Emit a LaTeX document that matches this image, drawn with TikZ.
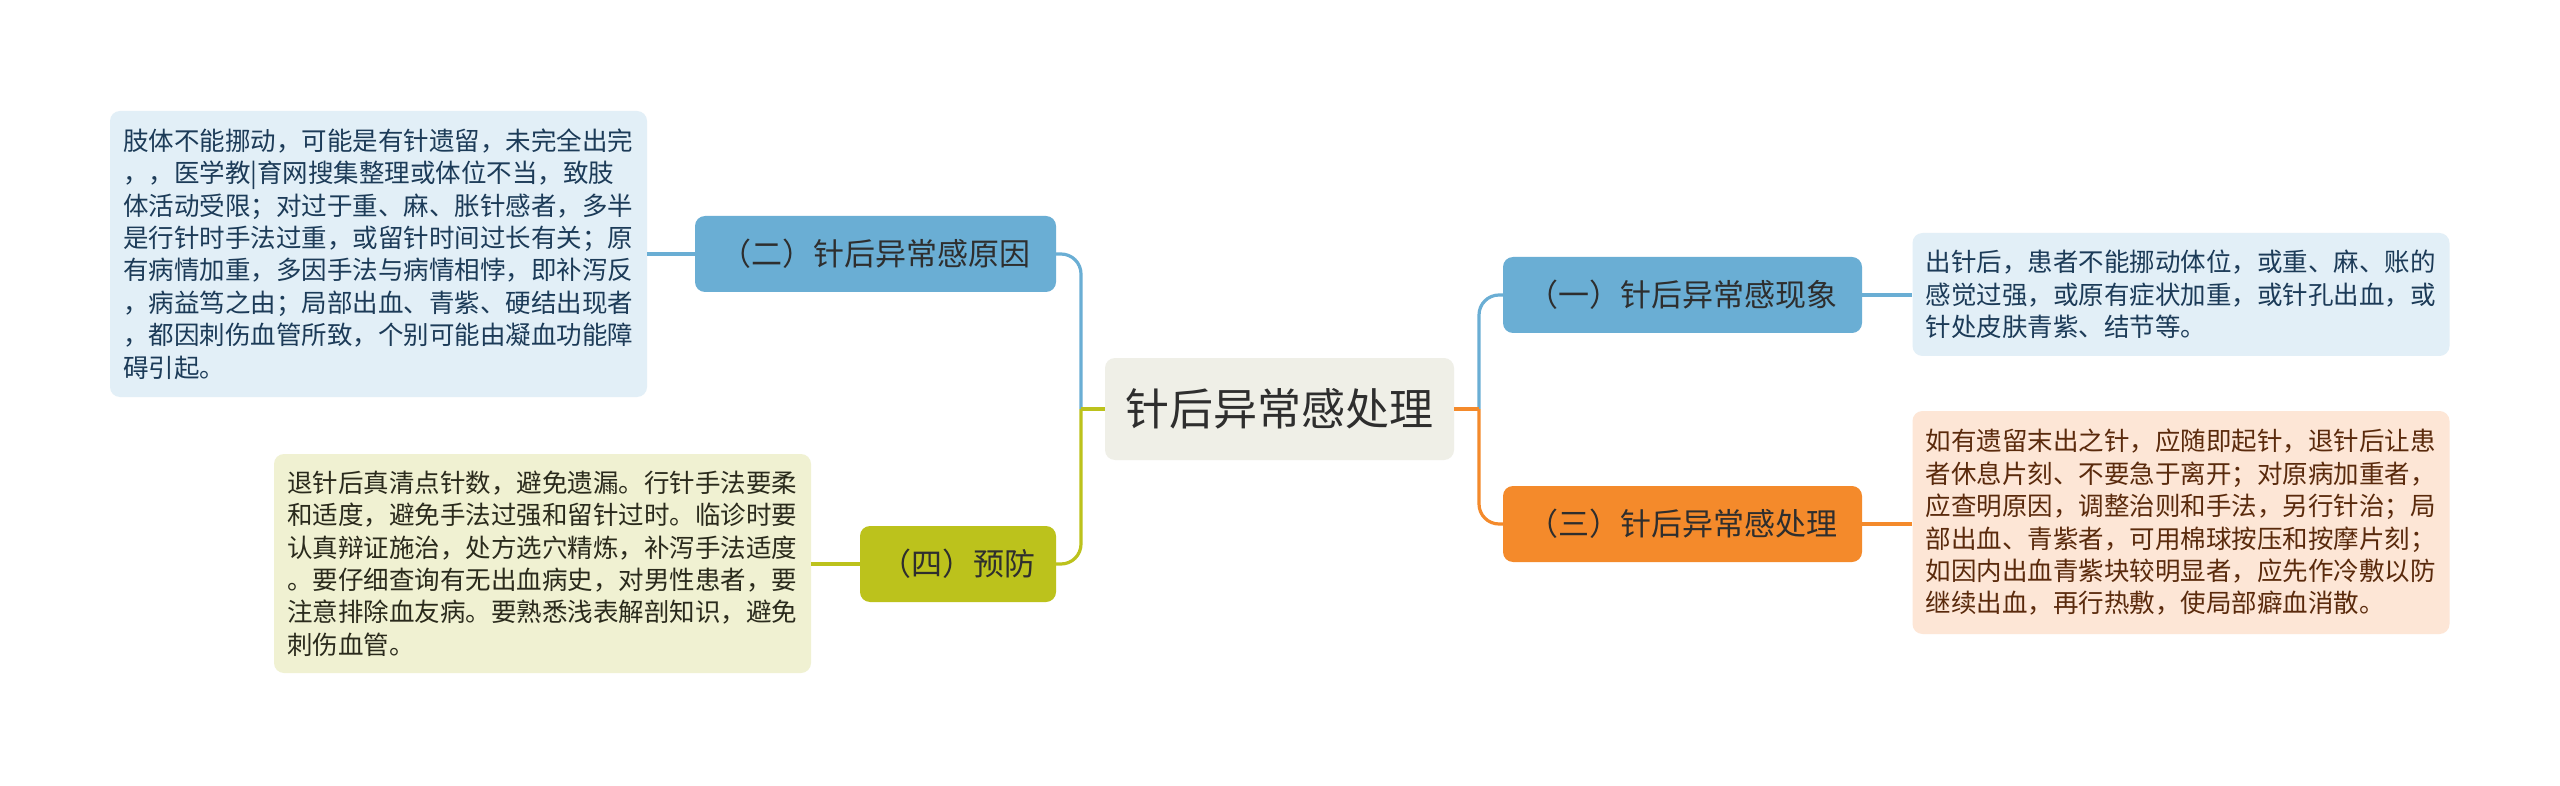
\documentclass[tikz,border=0pt]{standalone}
\usepackage{fontspec}
\setmainfont{Noto Sans CJK SC}
\definecolor{nblue}{HTML}{6AAED4}
\definecolor{norange}{HTML}{F48A2B}
\definecolor{nyg}{HTML}{BCC21C}
\definecolor{ncent}{HTML}{EFEFE7}
\definecolor{tblue}{HTML}{E2EFF7}
\definecolor{tyg}{HTML}{F0F1D2}
\definecolor{tor}{HTML}{FDE6D6}
\definecolor{txblue}{HTML}{1C3B58}
\definecolor{txyg}{HTML}{2A2A1C}
\definecolor{txor}{HTML}{5A2A0C}
\definecolor{txnode}{HTML}{2E2E2E}
\begin{document}
\begin{tikzpicture}[x=1pt,y=-1pt,
  conn/.style={line width=3.2pt},
  bl/.style={conn, draw=nblue},
  yg/.style={conn, draw=nyg},
  orr/.style={conn, draw=norange},
  branch/.style={rounded corners=10pt, minimum height=76pt, inner sep=0pt,
    font=\fontsize{31}{36}\selectfont, text=txnode},
  textbox/.style={rounded corners=10pt, text width=511pt, inner xsep=13pt, inner ysep=0pt,
    align=left, font=\fontsize{25.5}{32.4}\selectfont}
]
\useasboundingbox (0,0) rectangle (2560,786);
\fill[white] (0,0) rectangle (2560,786);

\node[rounded corners=10pt, fill=ncent, minimum width=349pt, minimum height=102pt, inner sep=0pt,
  font=\fontsize{44}{50}\selectfont, text=txnode] (c) at (1279.5,409) {针后异常感处理};

\node[branch, fill=nblue, minimum width=361pt] (n2) at (875.5,254) {（二）针后异常感原因};
\node[branch, fill=nyg, minimum width=196pt] (n4) at (958,564) {（四）预防};
\node[branch, fill=nblue, minimum width=359pt] (n1) at (1682.5,295) {（一）针后异常感现象};
\node[branch, fill=norange, minimum width=359pt] (n3) at (1682.5,524) {（三）针后异常感处理};

\node[textbox, fill=tblue, text=txblue, minimum height=286pt] (t2) at (378.5,254) {肢体不能挪动，可能是有针遗留，未完全出完\\，，医学教|育网搜集整理或体位不当，致肢\\体活动受限；对过于重、麻、胀针感者，多半\\是行针时手法过重，或留针时间过长有关；原\\有病情加重，多因手法与病情相悖，即补泻反\\，病益笃之由；局部出血、青紫、硬结出现者\\，都因刺伤血管所致，个别可能由凝血功能障\\碍引起。};

\node[textbox, fill=tyg, text=txyg, minimum height=219pt] (t4) at (542.5,563.5) {退针后真清点针数，避免遗漏。行针手法要柔\\和适度，避免手法过强和留针过时。临诊时要\\认真辩证施治，处方选穴精炼，补泻手法适度\\。要仔细查询有无出血病史，对男性患者，要\\注意排除血友病。要熟悉浅表解剖知识，避免\\刺伤血管。};

\node[textbox, fill=tblue, text=txblue, minimum height=123pt] (t1) at (2181,294.5) {出针后，患者不能挪动体位，或重、麻、账的\\感觉过强，或原有症状加重，或针孔出血，或\\针处皮肤青紫、结节等。};

\node[textbox, fill=tor, text=txor, minimum height=223pt] (t3) at (2181,522.5) {如有遗留末出之针，应随即起针，退针后让患\\者休息片刻、不要急于离开；对原病加重者，\\应查明原因，调整治则和手法，另行针治；局\\部出血、青紫者，可用棉球按压和按摩片刻；\\如因内出血青紫块较明显者，应先作冷敷以防\\继续出血，再行热敷，使局部癖血消散。};

\coordinate (jl) at (1081,409);
\coordinate (jr) at (1479,409);
\draw[bl, rounded corners=20pt] (jl) |- (n2.east);
\draw[yg] (c.west) -- (jl);
\draw[yg, rounded corners=20pt] (jl) |- (n4.east);
\draw[bl, rounded corners=20pt] (jr) |- (n1.west);
\draw[orr] (c.east) -- (jr);
\draw[orr, rounded corners=20pt] (jr) |- (n3.west);

\draw[bl] (n2.west) -- (n2.west -| t2.east);
\draw[yg] (n4.west) -- (n4.west -| t4.east);
\draw[bl] (n1.east) -- (n1.east -| t1.west);
\draw[orr] (n3.east) -- (n3.east -| t3.west);
\end{tikzpicture}
\end{document}
